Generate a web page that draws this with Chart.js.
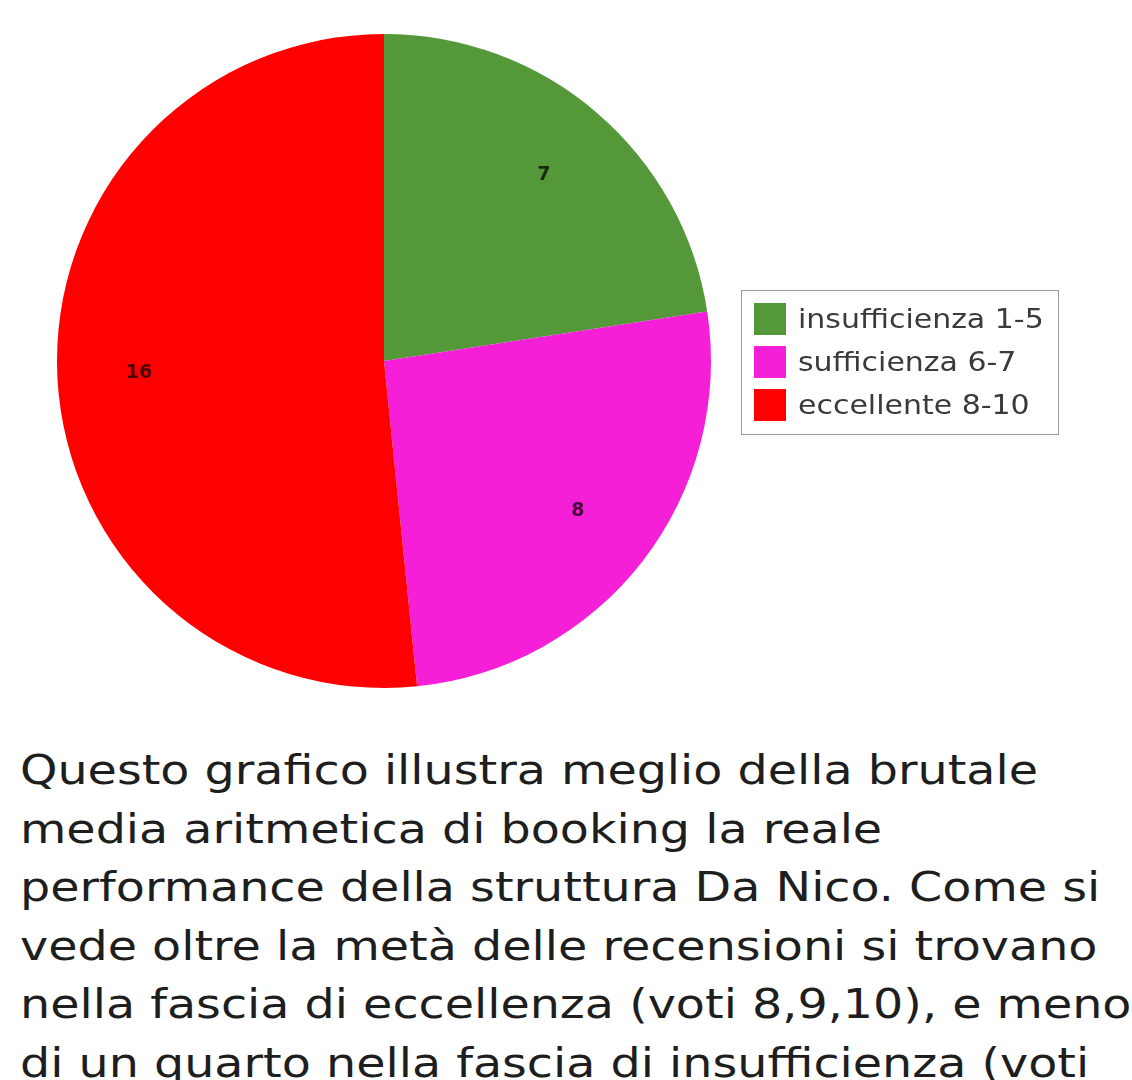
<!DOCTYPE html>
<html>
<head>
<meta charset="utf-8">
<script src="https://cdn.jsdelivr.net/npm/chart.js@4/dist/chart.umd.min.js"></script>
<style>
  html, body { margin: 0; padding: 0; background: #fff; overflow: hidden; }
  body { width: 1132px; height: 1080px; position: relative; font-family: "DejaVu Sans", sans-serif; }
  #wrap { position: absolute; left: 0; top: 0; width: 768px; height: 724px; }
  #legend { position: absolute; left: 741px; top: 290px; width: 318px; height: 145px; border: 1px solid #999; box-sizing: border-box; padding-top: 6px; }
  .item { display: flex; align-items: center; height: 43px; padding-left: 12px; font-size: 27px; color: #3a3a3a; }
  .box { width: 32px; height: 32px; margin-right: 12px; flex: none; }
  .lab { display: inline-block; transform: scaleX(1.11); transform-origin: left center; white-space: nowrap; }
  #testo { position: absolute; left: 20px; top: 741px; width: 1200px; font-size: 40.5px; line-height: 58.6px; color: #1e1e1e; white-space: nowrap; transform: scaleX(1.175); transform-origin: left top; }
</style>
</head>
<body>
<div id="wrap"><canvas id="torta"></canvas></div>
<div id="legend"></div>
<div id="testo"></div>
<script>
const fasce = ['insufficienza 1-5', 'sufficienza 6-7', 'eccellente 8-10']
const recensioni = [7, 8, 16]
const colori = ['#55983a', '#f41fd6', '#fe0000']
const righeTesto = [
  'Questo grafico illustra meglio della brutale',
  'media aritmetica di booking la reale',
  'performance della struttura Da Nico. Come si',
  'vede oltre la metà delle recensioni si trovano',
  'nella fascia di eccellenza (voti 8,9,10), e meno',
  'di un quarto nella fascia di insufficienza (voti'
]

// numeri dentro le fette, a 3/4 del raggio
const etichette = {
  id: 'etichette',
  afterDatasetsDraw(chart) {
    const ctx = chart.ctx
    const meta = chart.getDatasetMeta(0)
    ctx.save()
    ctx.font = 'bold 19px "DejaVu Sans"'
    ctx.fillStyle = 'rgba(0,0,0,0.72)'
    ctx.textAlign = 'center'
    ctx.textBaseline = 'middle'
    meta.data.forEach((arc, i) => {
      const { x, y, startAngle, endAngle, outerRadius } = arc.getProps(['x', 'y', 'startAngle', 'endAngle', 'outerRadius'], true)
      const a = (startAngle + endAngle) / 2
      const r = outerRadius * 0.75
      ctx.fillText(recensioni[i], x + Math.cos(a) * r, y + Math.sin(a) * r)
    })
    ctx.restore()
  }
}

new Chart(document.getElementById('torta'), {
  type: 'pie',
  data: {
    labels: fasce,
    datasets: [{
      data: recensioni,
      backgroundColor: colori,
      borderWidth: 0
    }]
  },
  options: {
    responsive: true,
    maintainAspectRatio: false,
    animation: false,
    layout: { padding: { left: 35, right: 35, top: 34, bottom: 36 } },
    plugins: {
      legend: { display: false },
      tooltip: { enabled: false }
    }
  },
  plugins: [etichette]
})

const legenda = document.getElementById('legend')
fasce.forEach((f, i) => {
  const riga = document.createElement('div')
  riga.className = 'item'
  riga.innerHTML = '<span class="box" style="background:' + colori[i] + '"></span><span class="lab">' + f + '</span>'
  legenda.appendChild(riga)
})

document.getElementById('testo').innerHTML = righeTesto.join('<br>')
</script>
</body>
</html>
